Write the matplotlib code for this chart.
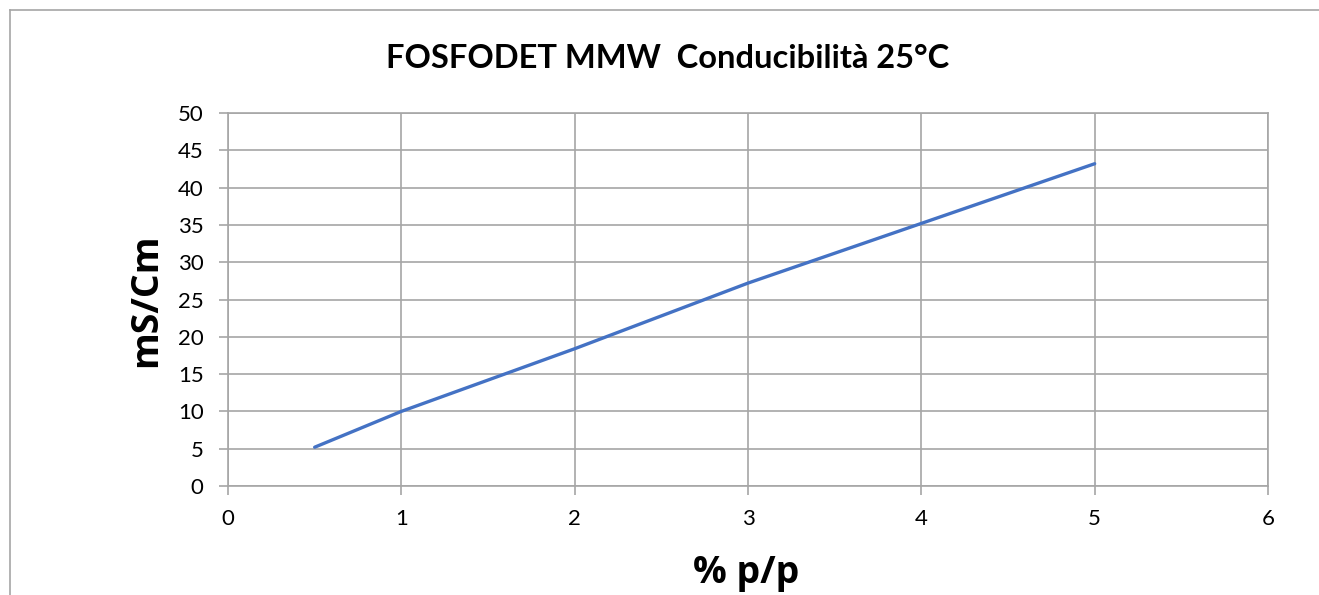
import matplotlib.pyplot as plt
from matplotlib.lines import Line2D

# data
conc = [0.5, 1, 2, 3, 4, 5]
cond = [5.2, 10.0, 18.4, 27.2, 35.2, 43.2]
xticks = [0, 1, 2, 3, 4, 5, 6]
yticks = [0, 5, 10, 15, 20, 25, 30, 35, 40, 45, 50]

W, H = 1319, 595
plt.rcParams['font.family'] = ['Lato', 'DejaVu Sans']

fig = plt.figure(figsize=(W / 100, H / 100), dpi=100)
ax = fig.add_axes([228 / W, 1 - 486 / H, (1268 - 228) / W, (486 - 113) / H])

# chart area border (only top and left edges are in view)
bx, by = 9.5 / W, 1 - 9.5 / H
fig.add_artist(Line2D([bx, 1.0], [by, by], transform=fig.transFigure,
                      color='#a6a6a6', linewidth=1.2))
fig.add_artist(Line2D([bx, bx], [0.0, by], transform=fig.transFigure,
                      color='#a6a6a6', linewidth=1.2))

ax.plot(conc, cond, color='#4472C4', linewidth=2.4, solid_capstyle='round')

ax.set_xlim(0, 6)
ax.set_ylim(0, 50)
ax.set_xticks(xticks)
ax.set_yticks(yticks)
ax.grid(True, color='#a6a6a6', linewidth=1.2)
ax.set_axisbelow(True)
for s in ax.spines.values():
    s.set_color('#a6a6a6')
    s.set_linewidth(1.2)
ax.tick_params(axis='both', colors='#a6a6a6', labelcolor='black',
               labelsize=16, length=6.5, width=1.2, direction='out')
ax.tick_params(axis='y', pad=11)
ax.tick_params(axis='x', pad=10)

fig.text(668 / W, 1 - 58 / H, 'FOSFODET MMW  Conducibilità 25°C',
         ha='center', va='center', fontsize=23.5, fontweight='bold')
fig.text(746 / W, 1 - 573 / H, '% p/p', ha='center', va='center',
         fontsize=27, fontweight='bold', family=['Open Sans', 'DejaVu Sans'])
fig.text(146 / W, 1 - 300 / H, 'mS/Cm', ha='center', va='center',
         rotation=90, fontsize=27, fontweight='bold',
         family=['Open Sans', 'DejaVu Sans'])

fig.savefig('out.png', dpi=100)
